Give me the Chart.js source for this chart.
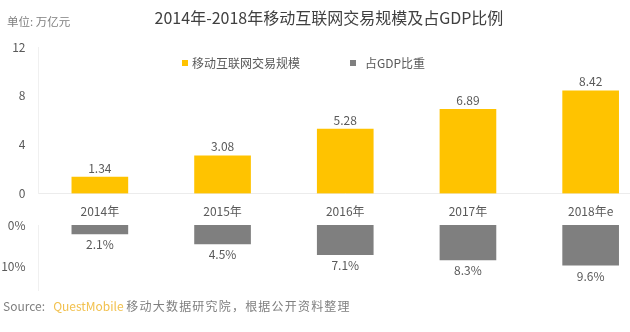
<!DOCTYPE html>
<html>
<head>
<meta charset="utf-8">
<script src="https://cdn.jsdelivr.net/npm/chart.js@4/dist/chart.umd.min.js"></script>
<style>
  html, body { margin: 0; padding: 0; background: #fff; overflow: hidden; }
  #wrap { position: relative; width: 630px; height: 332px; overflow: hidden;
          font-family: "Noto Sans CJK SC", "Open Sans", sans-serif; }
  canvas { position: absolute; left: 0; top: 0; }
  .txt { position: absolute; white-space: nowrap; line-height: 1; }
  #title { left: 0; width: 658px; text-align: center; top: 9px; font-size: 16px; color: #404040; }
  #unit { left: 7px; top: 16px; font-size: 11.5px; color: #7f7f7f; }
  .lg { position: absolute; font-size: 12px; color: #595959; line-height: 1; white-space: nowrap; }
  .sw { position: absolute; width: 6px; height: 6px; }
  #src { left: 3px; top: 300px; font-size: 12px; color: #7f7f7f; }
  #src .qm { color: #F2C14E; }
  #src .cn { letter-spacing: 1.2px; }
</style>
</head>
<body>
<div id="wrap">
  <canvas id="top" width="655" height="222"></canvas>
  <canvas id="bot" width="655" height="332"></canvas>
  <div id="title" class="txt">2014年-2018年移动互联网交易规模及占GDP比例</div>
  <div id="unit" class="txt">单位: 万亿元</div>
  <div id="legend"></div>
  <div id="src" class="txt">Source:&nbsp;&nbsp; <span class="qm">QuestMobile</span> <span class="cn">移动大数据研究院，根据公开资料整理</span></div>
</div>
<script>
// ---- data ----
const categories = ["2014年", "2015年", "2016年", "2017年", "2018年e"];
const seriesNames = ["移动互联网交易规模", "占GDP比重"];
const tradeScale = [1.34, 3.08, 5.28, 6.89, 8.42];      // 万亿元
const gdpShare = [2.1, 4.5, 7.1, 8.3, 9.6];             // %
const topTicks = [0, 4, 8, 12];
const bottomTicks = [0, 10];

// ---- styles ----
const YELLOW = "#FFC300";
const GREY = "#7F7F7F";
const LABEL = "#595959";
const FONT = '"Noto Sans CJK SC", "Open Sans", sans-serif';
Chart.defaults.font.family = FONT;
Chart.defaults.color = LABEL;

// legend (HTML)
const legendDiv = document.getElementById("legend");
const legendPos = [{sx: 182, tx: 192}, {sx: 350, tx: 365}];
[YELLOW, GREY].forEach((c, i) => {
  const sw = document.createElement("div");
  sw.className = "sw"; sw.style.background = c;
  sw.style.left = legendPos[i].sx + "px"; sw.style.top = "60px";
  legendDiv.appendChild(sw);
  const t = document.createElement("div");
  t.className = "lg"; t.textContent = seriesNames[i];
  t.style.left = legendPos[i].tx + "px"; t.style.top = "57px";
  legendDiv.appendChild(t);
});

// value label plugin
function valueLabels(fmt, below) {
  return {
    id: "valueLabels",
    afterDatasetsDraw(chart) {
      const ctx = chart.ctx;
      ctx.save();
      ctx.font = "12px " + FONT;
      ctx.fillStyle = LABEL;
      ctx.textAlign = "center";
      chart.data.datasets.forEach((ds, di) => {
        chart.getDatasetMeta(di).data.forEach((bar, i) => {
          const v = ds.data[i];
          if (below) { ctx.textBaseline = "top"; ctx.fillText(fmt(v), bar.x, bar.y + 5); }
          else { ctx.textBaseline = "bottom"; ctx.fillText(fmt(v), bar.x, bar.y - 3); }
        });
      });
      ctx.restore();
    }
  };
}

new Chart(document.getElementById("top"), {
  type: "bar",
  data: { labels: categories,
    datasets: [{ label: seriesNames[0], data: tradeScale, backgroundColor: YELLOW,
                 barThickness: 56 }] },
  options: {
    responsive: false, animation: false, devicePixelRatio: 1,
    layout: { padding: { top: 47, left: 0, right: 3, bottom: 0 } },
    plugins: { legend: { display: false }, tooltip: { enabled: false } },
    scales: {
      x: { offset: true, grid: { display: false, drawTicks: false },
           border: { display: true, color: "#ececec" },
           ticks: { padding: 11, font: { size: 12 }, color: LABEL },
           afterFit(s) { s.height = 28.5; } },
      y: { min: 0, max: 12, grid: { display: false, drawTicks: false },
           border: { display: true, color: "#f0f0f0" },
           afterBuildTicks(s) { s.ticks = topTicks.map(v => ({ value: v })); },
           ticks: { padding: 13, font: { size: 12 }, color: LABEL },
           afterFit(s) { s.width = 38.5; } }
    }
  },
  plugins: [valueLabels(v => v.toFixed(2), false)]
});

new Chart(document.getElementById("bot"), {
  type: "bar",
  data: { labels: categories,
    datasets: [{ label: seriesNames[1], data: gdpShare, backgroundColor: GREY,
                 barThickness: 56 }] },
  options: {
    responsive: false, animation: false, devicePixelRatio: 1,
    layout: { padding: { top: 225, left: 0, right: 3, bottom: 42 } },
    plugins: { legend: { display: false }, tooltip: { enabled: false } },
    scales: {
      x: { display: false, offset: true },
      y: { reverse: true, min: 0, max: 15.5, grid: { display: false, drawTicks: false },
           border: { display: true, color: "#f0f0f0" },
           afterBuildTicks(s) { s.ticks = bottomTicks.map(v => ({ value: v })); },
           ticks: { padding: 13, font: { size: 12 }, color: LABEL, callback: v => v + "%" },
           afterFit(s) { s.width = 38.5; } }
    }
  },
  plugins: [valueLabels(v => v.toFixed(1) + "%", true)]
});
</script>
</body>
</html>
